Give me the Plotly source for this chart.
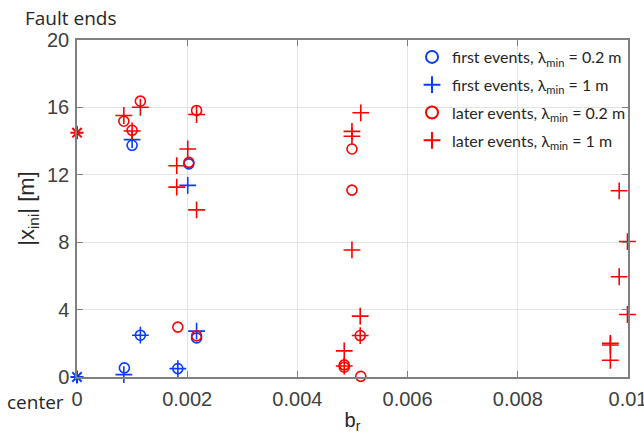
import plotly.graph_objects as go

# first events, lambda_min = 0.2 m (blue circles)
fe02_x = [0.00086, 0.00100, 0.00115, 0.00183, 0.00203, 0.00217]
fe02_y = [0.54, 13.75, 2.48, 0.50, 12.65, 2.32]
# first events, lambda_min = 1 m (blue plus)
fe1_x = [0.00085, 0.00100, 0.00115, 0.00183, 0.00201, 0.00217]
fe1_y = [0.14, 14.09, 2.48, 0.50, 11.37, 2.72]
# later events, lambda_min = 0.2 m (red circles)
le02_x = [0.00085, 0.00100, 0.00115, 0.00183, 0.00203, 0.00217, 0.00217,
          0.00499, 0.00499, 0.00514, 0.00485, 0.00485, 0.00515]
le02_y = [15.18, 14.64, 16.37, 2.96, 12.74, 15.82, 2.44,
          13.53, 11.09, 2.46, 0.72, 0.58, 0.04]
# later events, lambda_min = 1 m (red plus)
le1_x = [0.00085, 0.00100, 0.00115, 0.00181, 0.00181, 0.00201, 0.00217, 0.00217,
         0.00515, 0.00499, 0.00499, 0.00499, 0.00514, 0.00514, 0.00485, 0.00485,
         0.00984, 0.00999, 0.00984, 0.00999, 0.00968, 0.00968, 0.00968]
le1_y = [15.52, 14.60, 16.01, 12.54, 11.27, 13.53, 15.58, 9.92,
         15.68, 14.58, 14.29, 7.54, 3.61, 2.46, 1.55, 0.65,
         11.05, 8.04, 5.95, 3.71, 2.00, 1.90, 0.99]
# reference markers (center, fault ends)
star_blue_x, star_blue_y = [0.0], [0.0]
star_red_x, star_red_y = [0.0], [14.5]

x_ticks = [0, 0.002, 0.004, 0.006, 0.008, 0.01]
x_ticktext = ["0", "0.002", "0.004", "0.006", "0.008", "0.01"]
y_ticks = [0, 4, 8, 12, 16, 20]

BLUE = "#0a3cff"
RED = "#ff0000"

fig = go.Figure()
circ = dict(symbol="circle-open", size=10, line=dict(width=1.6))
plus = dict(symbol="cross-thin-open", size=12, line=dict(width=1.6))

fig.add_trace(go.Scatter(x=fe02_x, y=fe02_y, mode="markers", cliponaxis=False,
                         marker=dict(color=BLUE, **circ), legendgroup="a",
                         name="first events, λ<sub>min</sub> = 0.2 m"))
fig.add_trace(go.Scatter(x=fe1_x, y=fe1_y, mode="markers", cliponaxis=False,
                         marker=dict(color=BLUE, **plus), legendgroup="b",
                         name="first events, λ<sub>min</sub> = 1 m"))
fig.add_trace(go.Scatter(x=le02_x, y=le02_y, mode="markers", cliponaxis=False,
                         marker=dict(color=RED, **circ), legendgroup="c",
                         name="later events, λ<sub>min</sub> = 0.2 m"))
fig.add_trace(go.Scatter(x=le1_x, y=le1_y, mode="markers", cliponaxis=False,
                         marker=dict(color=RED, **plus), legendgroup="d",
                         name="later events, λ<sub>min</sub> = 1 m"))
fig.add_trace(go.Scatter(x=star_blue_x, y=star_blue_y, mode="markers", cliponaxis=False,
                         marker=dict(color=BLUE, symbol="asterisk-open", size=11,
                                     line=dict(width=2, color=BLUE)),
                         showlegend=False))
fig.add_trace(go.Scatter(x=star_red_x, y=star_red_y, mode="markers", cliponaxis=False,
                         marker=dict(color=RED, symbol="asterisk-open", size=11,
                                     line=dict(width=2, color=RED)),
                         showlegend=False))

axis_common = dict(showgrid=True, gridcolor="#e3e3e3", gridwidth=1,
                   showline=True, linecolor="#808080", linewidth=1.5, mirror="ticks",
                   ticks="inside", ticklen=6, tickcolor="#808080", zeroline=False,
                   ticklabeloverflow="allow", automargin=False,
                   tickfont=dict(family="Liberation Sans, Arial", size=20, color="#404040"))

fig.update_xaxes(range=[0, 0.01], tickvals=x_ticks, ticktext=x_ticktext,
                 ticklabelstandoff=3,
                 title=dict(text="b<sub>r</sub>", standoff=4,
                            font=dict(family="Liberation Sans, Arial", size=20, color="#262626")),
                 **axis_common)
fig.update_yaxes(range=[0, 20], tickvals=y_ticks, ticklabelstandoff=2,
                 title=dict(text="|x<sub>ini</sub>| [m]", standoff=6,
                            font=dict(family="Liberation Sans, Arial", size=22, color="#262626")),
                 **axis_common)

fig.update_layout(
    width=644, height=441,
    margin=dict(l=77, r=16, t=40, b=64, autoexpand=False),
    paper_bgcolor="white", plot_bgcolor="white",
    showlegend=True,
    legend=dict(x=0.608, y=1.0, xanchor="left", yanchor="top",
                bgcolor="rgba(0,0,0,0)", borderwidth=0,
                font=dict(family="Lato, Open Sans", size=16, color="#262626"),
                tracegroupgap=4, itemsizing="constant"),
    annotations=[
        dict(text="Fault ends", xref="paper", yref="paper", x=-0.098, y=1.0,
             xanchor="left", yanchor="middle", yshift=22, showarrow=False,
             font=dict(family="Open Sans", size=19, color="#262626")),
        dict(text="center", xref="paper", yref="paper", x=-0.02, y=0.0,
             xanchor="right", yanchor="middle", yshift=-25, showarrow=False,
             font=dict(family="Open Sans", size=19, color="#262626")),
    ],
)

fig.write_html("out.html")
